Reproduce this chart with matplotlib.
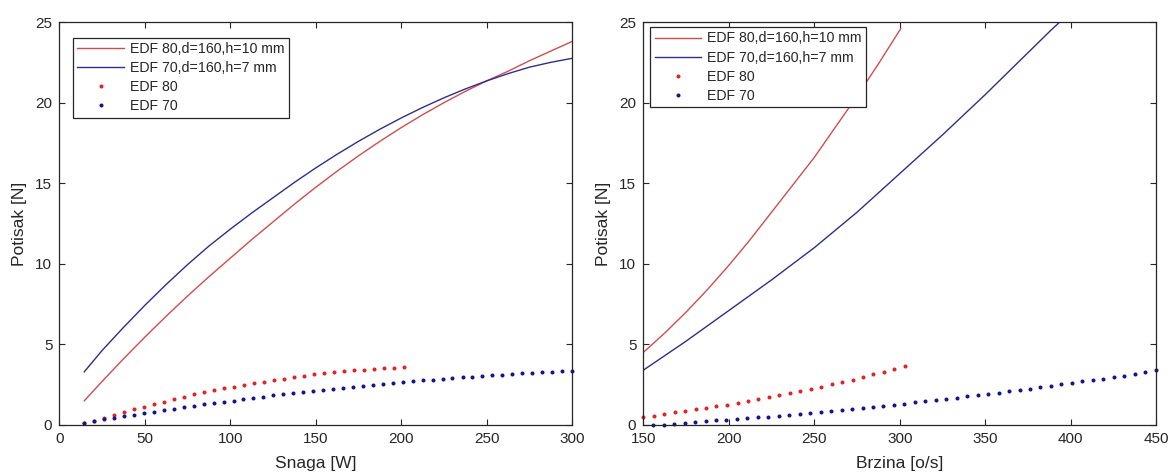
import matplotlib
matplotlib.use("Agg")
import matplotlib.pyplot as plt

plt.rcParams['font.family'] = ['Liberation Sans', 'DejaVu Sans']

# ---------------- data: left panel (Snaga [W]) ----------------
fit_power = [14.6, 25, 37.5, 50, 62.5, 75, 87.5, 100, 112.5, 125, 137.5, 150,
             162.5, 175, 187.5, 200, 212.5, 225, 237.5, 250, 262.5, 275, 287.5, 300]
fit80_thrust_p = [1.5, 2.7, 4.1, 5.45, 6.75, 8.0, 9.2, 10.35, 11.5, 12.6, 13.7, 14.75,
                  15.75, 16.7, 17.6, 18.45, 19.25, 20.0, 20.7, 21.35, 21.95, 22.6, 23.2, 23.8]
fit70_thrust_p = [3.3, 4.62, 6.05, 7.42, 8.72, 9.95, 11.1, 12.15, 13.15, 14.1, 15.05, 15.95,
                  16.8, 17.6, 18.35, 19.05, 19.7, 20.3, 20.85, 21.35, 21.8, 22.2, 22.5, 22.75]

edf80_power = [14.6, 20.5, 26.3, 32.2, 38.0, 43.9, 49.7, 55.6, 61.4, 67.3,
               73.1, 79.0, 84.8, 90.7, 96.5, 102.4, 108.2, 114.1, 119.9, 125.8,
               131.6, 137.5, 143.3, 149.2, 155.0, 160.9, 166.7, 172.6, 178.4, 184.3,
               190.1, 196.0, 201.8]
edf80_thrust_p = [0.10, 0.23, 0.43, 0.60, 0.81, 0.97, 1.14, 1.30, 1.45, 1.59,
                  1.74, 1.90, 2.03, 2.15, 2.27, 2.38, 2.48, 2.58, 2.67, 2.77,
                  2.87, 2.98, 3.06, 3.14, 3.21, 3.27, 3.33, 3.39, 3.43, 3.47,
                  3.51, 3.56, 3.60]
edf70_power = [14.6, 20.4, 26.2, 32.1, 37.9, 43.7, 49.5, 55.3, 61.2, 67.0,
               72.8, 78.6, 84.4, 90.3, 96.1, 101.9, 107.7, 113.5, 119.4, 125.2,
               131.0, 136.8, 142.6, 148.5, 154.3, 160.1, 165.9, 171.7, 177.6, 183.4,
               189.2, 195.0, 200.8, 206.7, 212.5, 218.3, 224.1, 229.9, 235.8, 241.6,
               247.4, 253.2, 259.0, 264.9, 270.7, 276.5, 282.3, 288.1, 294.0, 299.8]
edf70_thrust_p = [0.10, 0.23, 0.35, 0.43, 0.54, 0.64, 0.72, 0.81, 0.91, 1.01,
                  1.10, 1.18, 1.28, 1.36, 1.43, 1.51, 1.59, 1.67, 1.76, 1.84,
                  1.92, 1.97, 2.03, 2.11, 2.17, 2.23, 2.32, 2.38, 2.44, 2.50,
                  2.56, 2.61, 2.67, 2.73, 2.77, 2.81, 2.87, 2.92, 2.96, 3.00,
                  3.04, 3.08, 3.12, 3.16, 3.20, 3.24, 3.28, 3.31, 3.35, 3.38]

# ---------------- data: right panel (Brzina [o/s]) ----------------
fit80_speed = [150, 162.5, 175, 187.5, 200, 212.5, 225, 237.5, 250, 262.5, 275, 287.5, 300.6]
fit80_thrust_s = [4.5, 5.7, 7.0, 8.4, 9.9, 11.5, 13.2, 14.9, 16.6, 18.5, 20.4, 22.4, 24.6]
fit70_speed = [150, 162.5, 175, 187.5, 200, 212.5, 225, 237.5, 250, 262.5, 275, 287.5,
               300, 312.5, 325, 337.5, 350, 362.5, 375, 387.5, 393.5]
fit70_thrust_s = [3.4, 4.3, 5.2, 6.15, 7.1, 8.05, 9.0, 10.0, 11.0, 12.1, 13.2, 14.4,
                  15.6, 16.8, 18.0, 19.25, 20.5, 21.8, 23.1, 24.4, 25.0]

edf80_speed = [150.0, 156.1, 162.2, 168.4, 174.5, 180.6, 186.7, 192.8, 199.0, 205.1,
               211.2, 217.3, 223.4, 229.6, 235.7, 241.8, 247.9, 254.0, 260.2, 266.3,
               272.4, 278.5, 284.6, 290.8, 296.9, 303.0]
edf80_thrust_s = [0.52, 0.58, 0.68, 0.79, 0.89, 0.97, 1.07, 1.18, 1.26, 1.38,
                  1.49, 1.59, 1.72, 1.86, 1.99, 2.11, 2.25, 2.38, 2.52, 2.67,
                  2.81, 2.97, 3.16, 3.31, 3.47, 3.66]
edf70_speed = [155.8, 161.9, 168.0, 174.2, 180.3, 186.4, 192.5, 198.6, 204.8, 210.9,
               217.0, 223.1, 229.2, 235.4, 241.5, 247.6, 253.7, 259.8, 266.0, 272.1,
               278.2, 284.3, 290.4, 296.6, 302.7, 308.8, 314.9, 321.0, 327.2, 333.3,
               339.4, 345.5, 351.6, 357.8, 363.9, 370.0, 376.1, 382.2, 388.4, 394.5,
               400.6, 406.7, 412.8, 419.0, 425.1, 431.2, 437.3, 443.4, 449.6]
edf70_thrust_s = [0.00, 0.02, 0.06, 0.12, 0.19, 0.23, 0.29, 0.33, 0.37, 0.43,
                  0.48, 0.52, 0.58, 0.62, 0.68, 0.74, 0.81, 0.85, 0.91, 0.97,
                  1.03, 1.12, 1.18, 1.24, 1.32, 1.41, 1.47, 1.53, 1.61, 1.70,
                  1.78, 1.84, 1.92, 2.01, 2.09, 2.17, 2.25, 2.34, 2.44, 2.52,
                  2.61, 2.71, 2.79, 2.87, 2.97, 3.07, 3.18, 3.30, 3.42]

labels = ['EDF 80,d=160,h=10 mm', 'EDF 70,d=160,h=7 mm', 'EDF 80', 'EDF 70']
y_ticks = [0, 5, 10, 15, 20, 25]

RED_LINE = '#d24c4c'
BLUE_LINE = '#2e2e8c'
RED_DOT = '#e02424'
BLUE_DOT = '#14148c'
AX_COL = '#262626'

fig = plt.figure(figsize=(11.73, 4.74), dpi=100)
W, H = 1173, 474
ax1 = fig.add_axes([59.3 / W, (H - 425) / H, 513 / W, 403 / H])
ax2 = fig.add_axes([643.3 / W, (H - 425) / H, 513 / W, 403 / H])


def style(ax, xlim, xticks, xlabel):
    ax.set_xlim(*xlim)
    ax.set_ylim(0, 25)
    ax.set_xticks(xticks)
    ax.set_yticks(y_ticks)
    ax.tick_params(direction='in', length=4, width=0.8, top=True, right=True,
                   labelsize=11, colors=AX_COL, pad=5)
    for s in ax.spines.values():
        s.set_color(AX_COL)
        s.set_linewidth(0.9)
    ax.set_xlabel(xlabel, fontsize=12.5, color=AX_COL, labelpad=7)
    ax.set_ylabel('Potisak [N]', fontsize=12.5, color=AX_COL, labelpad=6)


def draw(ax, x80, y80, x70, y70, dx80, dy80, dx70, dy70, anchor):
    h1, = ax.plot(x80, y80, color=RED_LINE, lw=1.0)
    h2, = ax.plot(x70, y70, color=BLUE_LINE, lw=1.0)
    h3, = ax.plot(dx80, dy80, ls='none', marker='o', ms=2.9, mew=0, color=RED_DOT, clip_on=False)
    h4, = ax.plot(dx70, dy70, ls='none', marker='o', ms=2.9, mew=0, color=BLUE_DOT, clip_on=False)
    leg = ax.legend([h1, h2, h3, h4], labels, loc='upper left', bbox_to_anchor=anchor,
                    borderaxespad=0, fontsize=10.2, handlelength=3.3, handletextpad=0.4,
                    labelspacing=0.36, borderpad=0.3, fancybox=False, framealpha=1,
                    edgecolor=AX_COL, numpoints=1)
    leg.get_frame().set_linewidth(0.9)
    for t in leg.get_texts():
        t.set_color(AX_COL)


draw(ax1, fit_power, fit80_thrust_p, fit_power, fit70_thrust_p,
     edf80_power, edf80_thrust_p, edf70_power, edf70_thrust_p, (0.027, 0.961))
style(ax1, (0, 300), [0, 50, 100, 150, 200, 250, 300], 'Snaga [W]')

draw(ax2, fit80_speed, fit80_thrust_s, fit70_speed, fit70_thrust_s,
     edf80_speed, edf80_thrust_s, edf70_speed, edf70_thrust_s, (0.0136, 0.987))
style(ax2, (150, 450), [150, 200, 250, 300, 350, 400, 450], 'Brzina [o/s]')

fig.savefig('out.png', dpi=100)
